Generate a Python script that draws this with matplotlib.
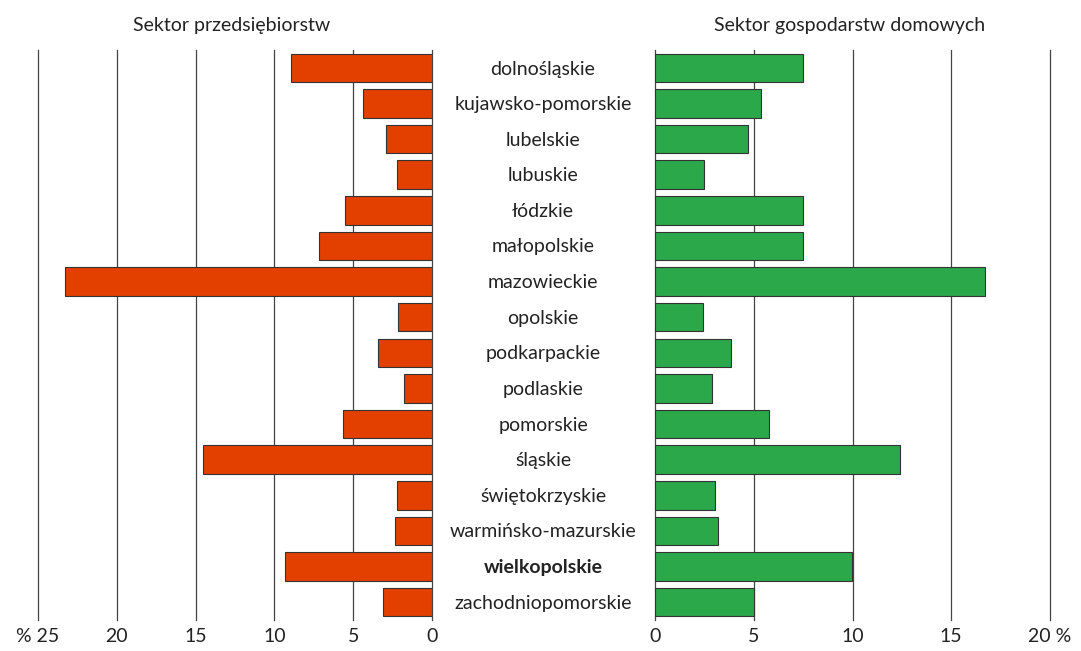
import matplotlib.pyplot as plt

regions = ['dolnośląskie', 'kujawsko-pomorskie', 'lubelskie', 'lubuskie', 'łódzkie',
           'małopolskie', 'mazowieckie', 'opolskie', 'podkarpackie', 'podlaskie',
           'pomorskie', 'śląskie', 'świętokrzyskie', 'warmińsko-mazurskie',
           'wielkopolskie', 'zachodniopomorskie']
firms = [8.95, 4.4, 2.9, 2.2, 5.5, 7.2, 23.3, 2.15, 3.4, 1.8, 5.65, 14.55, 2.2, 2.35, 9.3, 3.1]
households = [7.5, 5.35, 4.7, 2.5, 7.5, 7.5, 16.7, 2.45, 3.85, 2.9, 5.75, 12.4, 3.05, 3.2, 9.95, 5.0]

left_ticks = [25, 20, 15, 10, 5, 0]
left_labels = ['% 25', '20', '15', '10', '5', '0']
right_ticks = [0, 5, 10, 15, 20]
right_labels = ['0', '5', '10', '15', '20 %']

plt.rcParams['font.family'] = ['Lato', 'DejaVu Sans']
fig = plt.figure(figsize=(10.81, 6.51), dpi=100)
W, H = 1081, 651
axL = fig.add_axes([38 / W, 31 / H, 394 / W, 570 / H])
axR = fig.add_axes([655 / W, 31 / H, 395 / W, 570 / H])

ys = list(range(len(regions)))
axL.barh(ys, firms, height=0.8, color='#E34000', edgecolor='#333333', linewidth=0.8, zorder=3)
axR.barh(ys, households, height=0.8, color='#2AA84A', edgecolor='#333333', linewidth=0.8, zorder=3)

axL.set_xlim(25, 0)
axR.set_xlim(0, 20)
for ax, ticks, labels in [(axL, left_ticks, left_labels), (axR, right_ticks, right_labels)]:
    ax.set_ylim(len(regions) - 0.5, -0.5)
    ax.set_yticks([])
    ax.set_xticks(ticks)
    ax.set_xticklabels(labels, fontsize=14, color='#222222')
    ax.tick_params(axis='x', length=0, pad=6)
    for t in ticks:
        ax.axvline(t, color='#444444', linewidth=0.9, zorder=1, clip_on=False)
    for s in ax.spines.values():
        s.set_visible(False)

for y, name in zip(ys, regions):
    fig.text(543 / W, 1 - (69 + y * 35.6) / H, name, ha='center', va='center',
             fontsize=14, color='#222222',
             fontweight='bold' if name == 'wielkopolskie' else 'normal')

fig.text(232 / W, 1 - 25 / H, 'Sektor przedsiębiorstw', ha='center', va='center',
         fontsize=14, color='#222222')
fig.text(850 / W, 1 - 25 / H, 'Sektor gospodarstw domowych', ha='center', va='center',
         fontsize=14, color='#222222')

fig.savefig('out.png', dpi=100)
